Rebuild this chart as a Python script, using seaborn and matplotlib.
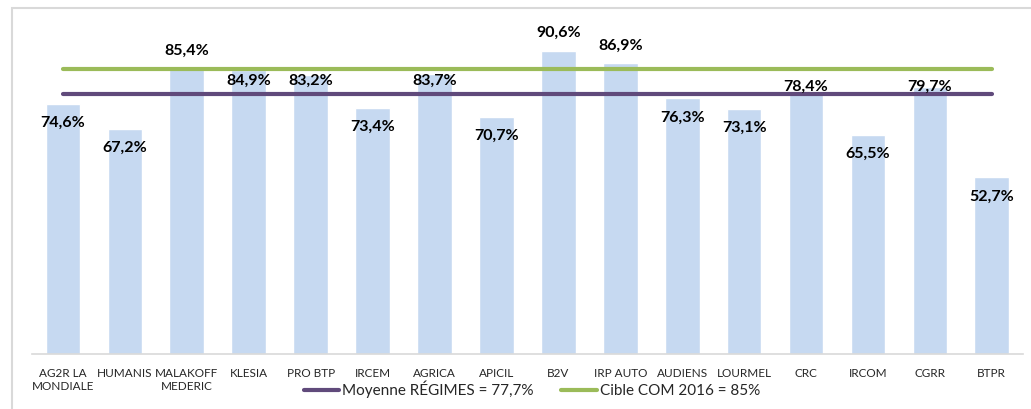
import matplotlib.pyplot as plt
import matplotlib.patches as mpatches
import pandas as pd
import seaborn as sns

# Data
regimes = ['AG2R LA\nMONDIALE', 'HUMANIS', 'MALAKOFF\nMEDERIC', 'KLESIA', 'PRO BTP', 'IRCEM',
           'AGRICA', 'APICIL', 'B2V', 'IRP AUTO', 'AUDIENS', 'LOURMEL', 'CRC', 'IRCOM',
           'CGRR', 'BTPR']
taux = [74.6, 67.2, 85.4, 84.9, 83.2, 73.4, 83.7, 70.7, 90.6, 86.9, 76.3, 73.1, 78.4, 65.5, 79.7, 52.7]
moyenne = 77.7
cible = 85.0

df = pd.DataFrame({'regime': regimes, 'taux': taux})

sns.set_style('white')
plt.rcParams['font.family'] = ['Lato', 'DejaVu Sans']

fig = plt.figure(figsize=(10.31, 4.09), dpi=100)
ax = fig.add_axes([0.031, 0.1345, 0.961, 0.819])

sns.barplot(data=df, x='regime', y='taux', color='#C6D9F1', saturation=1, width=0.56, ax=ax)

n = len(regimes)
ax.plot([0, n - 1], [cible, cible], color='#9BBB59', lw=3, solid_capstyle='round',
        label='Cible COM 2016 = 85%')
ax.plot([0, n - 1], [moyenne, moyenne], color='#604A7B', lw=3, solid_capstyle='round',
        label='Moyenne RÉGIMES = 77,7%')

# data labels, placed like the reference (inside, above, or between the lines)
for i, v in enumerate(taux):
    if v > cible:
        y = v + 5.2
    elif v >= 83:
        y = 81.7
    elif v > moyenne:
        y = 79.9
    else:
        y = v - 5.7
    ax.text(i, y, f'{v:.1f}%'.replace('.', ','), ha='center', va='center',
            fontsize=11.5, fontweight='bold', color='black')

ax.set_ylim(0, 100)
ax.set_xlim(-0.5, n - 0.5)
ax.set_xlabel('')
ax.set_ylabel('')
ax.set_yticks([])
for s in ['top', 'right', 'left']:
    ax.spines[s].set_visible(False)
ax.spines['bottom'].set_color('#d9d9d9')
ax.spines['bottom'].set_linewidth(1.2)
ax.tick_params(axis='x', length=0, pad=10, labelsize=8.5)

handles, labels = ax.get_legend_handles_labels()
fig.legend(handles[::-1], labels[::-1], loc='center', bbox_to_anchor=(0.516, 0.048), ncol=2,
           frameon=False, fontsize=11, handlelength=2.3, handletextpad=0.2, columnspacing=1.8)

# outer chart frame (left and top visible as in the reference)
fig.patches.append(mpatches.Rectangle((12 / 1031, -0.05), 1.05, 1 - 8 / 409 + 0.05,
                                      transform=fig.transFigure, fill=False,
                                      edgecolor='#d9d9d9', lw=1.5, zorder=0))

fig.savefig('out.png', dpi=100)
